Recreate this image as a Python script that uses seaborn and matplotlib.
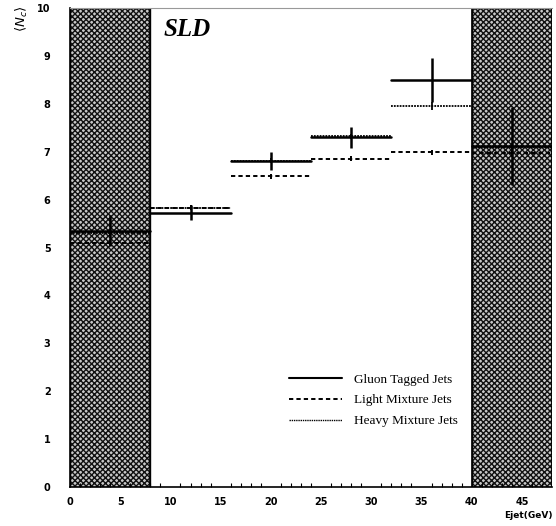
import numpy as np
import pandas as pd
import matplotlib
matplotlib.use("Agg")
import matplotlib.pyplot as plt
from matplotlib.lines import Line2D
import seaborn as sns

# Jet energy bins (GeV)
bin_lo = [0, 8, 16, 24, 32, 40]
bin_hi = [8, 16, 24, 32, 40, 48]

# Mean charged multiplicity per bin
gluon = [5.35, 5.73, 6.81, 7.30, 8.50, 7.12]
gluon_err = [0.32, 0.16, 0.19, 0.22, 0.46, 0.82]
light = [5.10, 5.83, 6.49, 6.85, 6.99, 6.97]
light_err = [0.05, 0.05, 0.05, 0.05, 0.05, 0.05]
heavy = [5.30, 5.83, 6.81, 7.32, 7.95, 7.10]
heavy_err = [0.05, 0.05, 0.05, 0.05, 0.08, 0.05]

labels = ["Gluon Tagged Jets", "Light Mixture Jets", "Heavy Mixture Jets"]
excluded = [(0, 8), (40, 48)]

sns.set_style("white")
plt.rcParams["hatch.linewidth"] = 1.0
plt.rcParams["font.family"] = ["DejaVu Sans"]
for key in ["text.color", "xtick.color", "ytick.color", "axes.labelcolor"]:
    plt.rcParams[key] = "black"

fig = plt.figure(figsize=(5.56, 5.26), dpi=100)
ax = fig.add_axes([70 / 556, 39 / 526, 482 / 556, 479 / 526])

# shaded (excluded) energy ranges
for lo, hi in excluded:
    ax.axvspan(lo, hi, facecolor="#c8c8c8", edgecolor="#111111", hatch="xxxxxx",
               linewidth=1.0, zorder=0)
    ax.axvline(lo, color="black", linewidth=1.2, zorder=1)
    ax.axvline(hi, color="black", linewidth=1.2, zorder=1)


def segments(vals):
    rows = []
    for i, (lo, hi, v) in enumerate(zip(bin_lo, bin_hi, vals)):
        rows.append({"x": lo, "y": v, "bin": i})
        rows.append({"x": hi, "y": v, "bin": i})
    return pd.DataFrame(rows)


centers = [(lo + hi) / 2 for lo, hi in zip(bin_lo, bin_hi)]
styles = [
    (heavy, heavy_err, (0, (1, 0.6)), 1.3),
    (light, light_err, (0, (2.2, 1.6)), 1.4),
    (gluon, gluon_err, "-", 1.8),
]
for vals, errs, ls, lw in styles:
    sns.lineplot(data=segments(vals), x="x", y="y", units="bin", estimator=None,
                 color="black", linestyle=ls, linewidth=lw, ax=ax, zorder=3)
    ax.errorbar(centers, vals, yerr=errs, fmt="none", ecolor="black",
                elinewidth=lw, capsize=0, zorder=3)

ax.set_xlim(0, 48)
ax.set_ylim(0, 10)
ax.set_xlabel("")
ax.set_ylabel("")
ax.set_xticks(np.arange(0, 50, 5))
ax.set_xticks(np.arange(0, 48, 1), minor=True)
ax.set_yticks(np.arange(0, 11, 1))
ax.tick_params(axis="x", which="major", direction="in", length=6, width=0.9,
               labelsize=7, pad=7)
ax.tick_params(axis="x", which="minor", direction="in", length=3, width=0.8,
               bottom=True)
ax.tick_params(axis="y", which="both", length=0, labelsize=7, pad=14)
for lab in ax.get_xticklabels() + ax.get_yticklabels():
    lab.set_fontweight("bold")

for side in ["left", "bottom"]:
    ax.spines[side].set_color("black")
    ax.spines[side].set_linewidth(1.2)
ax.spines["top"].set_color("#999999")
ax.spines["top"].set_linewidth(0.8)
ax.spines["right"].set_visible(False)

ax.text(0.195, 0.955, "SLD", transform=ax.transAxes, fontsize=18,
        fontweight="bold", fontstyle="italic", family="Liberation Serif",
        va="center", ha="left", color="black")

handles = [
    Line2D([], [], color="black", linestyle="-", linewidth=1.5),
    Line2D([], [], color="black", linestyle=(0, (2.2, 1.6)), linewidth=1.4),
    Line2D([], [], color="black", linestyle=(0, (1, 0.6)), linewidth=1.0),
]
leg = ax.legend(handles, labels, loc="lower left", bbox_to_anchor=(0.43, 0.1),
                frameon=False, handlelength=4.0, handletextpad=0.9,
                labelspacing=0.65, labelcolor="black",
                prop={"family": "Liberation Serif", "size": 9.5})

fig.text(22 / 556, 1 - 19 / 526, r"$\langle N_c \rangle$", rotation=90,
         ha="center", va="center", fontsize=9.5)
fig.text(553 / 556, 1 - 515 / 526, "Ejet(GeV)", ha="right", va="center",
         fontsize=6.5, fontweight="bold")

fig.savefig("out.png", dpi=100)
